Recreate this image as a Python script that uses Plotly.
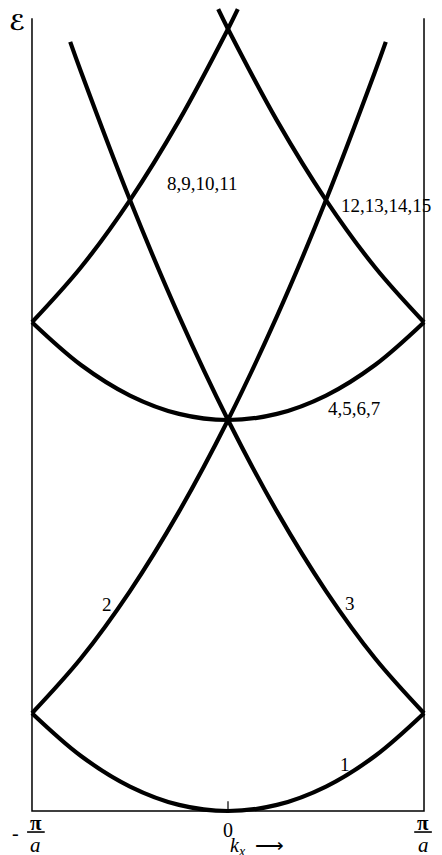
import plotly.graph_objects as go

# reduced wavevector k_x in units of pi/a, energy in units of (hbar^2/2m)(pi/a)^2
k_grid = [-1.0, -0.75, -0.5, -0.25, 0.0, 0.25, 0.5, 0.75, 1.0]

band_1 = [1.0, 0.5625, 0.25, 0.0625, 0.0, 0.0625, 0.25, 0.5625, 1.0]
band_4567 = [5.0, 4.5625, 4.25, 4.0625, 4.0, 4.0625, 4.25, 4.5625, 5.0]

# bands 2 and 3 run off the top of the frame
k_band2 = [-1.0, -0.75, -0.5, -0.25, 0.0, 0.25, 0.5, 0.75, 0.805]
band_2 = [1.0, 1.5625, 2.25, 3.0625, 4.0, 5.0625, 6.25, 7.5625, 7.868]
k_band3 = [-0.805, -0.75, -0.5, -0.25, 0.0, 0.25, 0.5, 0.75, 1.0]
band_3 = [7.868, 7.5625, 6.25, 5.0625, 4.0, 3.0625, 2.25, 1.5625, 1.0]

# upper bands cross just above k = 0
k_band8 = [-0.05, 0.0, 0.25, 0.5, 0.75, 1.0]
band_8_11 = [8.2025, 8.0, 7.0625, 6.25, 5.5625, 5.0]
k_band12 = [-1.0, -0.75, -0.5, -0.25, 0.0, 0.05]
band_12_15 = [5.0, 5.5625, 6.25, 7.0625, 8.0, 8.2025]

frame_top = 8.11

band_labels = ["1", "2", "3", "4,5,6,7", "8,9,10,11", "12,13,14,15"]
label_k = [0.597, -0.617, 0.62, 0.645, -0.128, 0.806]
label_e = [0.48, 2.11, 2.12, 4.12, 6.42, 6.19]

serif = "Liberation Serif"
black = "black"
curve = dict(color=black, width=4.2, shape="spline", smoothing=1.0)

fig = go.Figure()

# frame: side walls at the zone boundaries and the base line
fig.add_trace(go.Scatter(x=[-1, -1, 1, 1], y=[frame_top, 0, 0, frame_top],
                         mode="lines", line=dict(color=black, width=1.5),
                         hoverinfo="skip"))
fig.add_trace(go.Scatter(x=[0, 0], y=[0, 0.1], mode="lines",
                         line=dict(color=black, width=1.2), hoverinfo="skip"))

for xs, ys in [(k_grid, band_1), (k_grid, band_4567), (k_band2, band_2),
               (k_band3, band_3), (k_band8, band_8_11), (k_band12, band_12_15)]:
    fig.add_trace(go.Scatter(x=xs, y=ys, mode="lines", line=curve,
                             hoverinfo="skip"))

for txt, kx, en in zip(band_labels, label_k, label_e):
    fig.add_annotation(x=kx, y=en, text=txt, showarrow=False,
                       font=dict(family=serif, size=19, color=black))

# axis labels
fig.add_annotation(x=-1.077, y=8.2148, yanchor="top", text="<b>ℰ</b>", showarrow=False,
                   font=dict(family="DejaVu Sans", size=22, color=black))
fig.add_annotation(x=0, y=-0.19, text="0", showarrow=False,
                   font=dict(family=serif, size=20, color=black))
fig.add_annotation(x=0.0, y=-0.36, text="<i>k<sub>x</sub></i>  ⟶", showarrow=False,
                   xanchor="left", font=dict(family=serif, size=20, color=black))

# -pi/a and pi/a as stacked fractions
frac_k = [-0.98, 0.995]
for kx in frac_k:
    fig.add_annotation(x=kx, y=-0.12, text="<b>π</b>", showarrow=False,
                       font=dict(family=serif, size=21, color=black))
    fig.add_annotation(x=kx, y=-0.345, text="<i>a</i>", showarrow=False,
                       font=dict(family=serif, size=21, color=black))
    fig.add_shape(type="line", x0=kx - 0.045, x1=kx + 0.045,
                  y0=-0.215, y1=-0.215, line=dict(color=black, width=1.6))
fig.add_annotation(x=-1.085, y=-0.225, text="-", showarrow=False,
                   font=dict(family=serif, size=20, color=black))

# page body has an 8 px margin, so the figure is sized and ranged to suit
fig.update_xaxes(range=[-1.1224, 1.0918], visible=False, fixedrange=True)
fig.update_yaxes(range=[-0.4501, 8.2148], visible=False, fixedrange=True)
fig.update_layout(width=434, height=847, margin=dict(l=0, r=0, t=0, b=0),
                  showlegend=False, plot_bgcolor="white", paper_bgcolor="white")

fig.write_html("out.html")
